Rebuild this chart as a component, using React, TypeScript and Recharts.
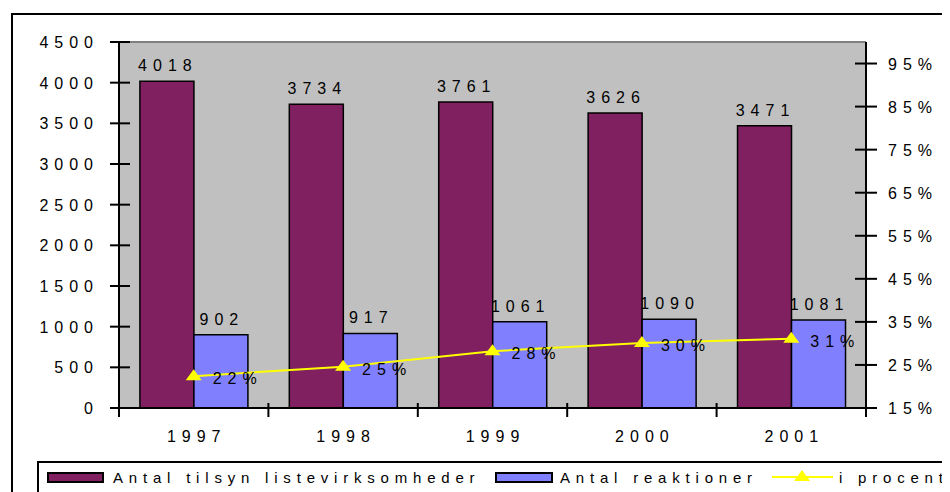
import React from "react";
import {
  ComposedChart,
  Bar,
  Line,
  XAxis,
  YAxis,
  CartesianGrid,
  ReferenceLine,
  LabelList
} from "recharts";

const years = ["1997", "1998", "1999", "2000", "2001"];
const tilsyn = [4018, 3734, 3761, 3626, 3471];
const reaktioner = [902, 917, 1061, 1090, 1081];
const procent = [0.224, 0.246, 0.282, 0.301, 0.311];

const leftTicks = [0, 500, 1000, 1500, 2000, 2500, 3000, 3500, 4000, 4500];
const rightTicks = [0.15, 0.25, 0.35, 0.45, 0.55, 0.65, 0.75, 0.85, 0.95];

const data = years.map((y, i) => ({
  year: y,
  tilsyn: tilsyn[i],
  reaktioner: reaktioner[i],
  procent: procent[i]
}));

const FONT = "'Liberation Sans', Arial, sans-serif";
const PURPLE = "#802060";
const BLUE = "#8080FF";
const YELLOW = "#FFFF00";
const SP = 6;

const txt = {
  fontFamily: FONT,
  fontSize: 16,
  letterSpacing: SP,
  fill: "#000"
};

const pct = (v: number) => Math.round(v * 100) + "%";

const LeftTick = (props: any) => {
  const { x, y, payload } = props;
  return (
    <g>
      <line x1={x - 9} x2={x + 11} y1={y} y2={y} stroke="#000" strokeWidth={2} />
      <text x={x - 20} y={y + 6} textAnchor="end" style={txt}>
        {payload.value}
      </text>
    </g>
  );
};

const RightTick = (props: any) => {
  const { x, y, payload } = props;
  return (
    <g>
      <line x1={x - 11} x2={x + 11} y1={y} y2={y} stroke="#000" strokeWidth={2} />
      <text x={x + 22} y={y + 6} textAnchor="start" style={txt}>
        {pct(payload.value)}
      </text>
    </g>
  );
};

const BottomTick = (props: any) => {
  const { x, y, payload, index } = props;
  const half = payload.offset || 74.7;
  return (
    <g>
      <line x1={x - half} x2={x - half} y1={y - 7} y2={y + 7} stroke="#000" strokeWidth={2} />
      {index === years.length - 1 && (
        <line x1={x + half} x2={x + half} y1={y - 7} y2={y + 7} stroke="#000" strokeWidth={2} />
      )}
      <text x={x + SP / 2} y={y + 32} textAnchor="middle" style={txt}>
        {payload.value}
      </text>
    </g>
  );
};

const BarLabel = (props: any) => {
  const { x, y, width, value } = props;
  return (
    <text x={x + width / 2 + 1} y={y - 10} textAnchor="middle" style={txt}>
      {value}
    </text>
  );
};

const PctLabel = (props: any) => {
  const { x, y, value } = props;
  return (
    <text x={x + 19} y={y + 8} textAnchor="start" style={txt}>
      {pct(value)}
    </text>
  );
};

const Triangle = (props: any) => {
  const { cx, cy } = props;
  if (cx == null || cy == null) return null;
  return (
    <polygon
      points={`${cx},${cy - 7} ${cx - 8},${cy + 4} ${cx + 8},${cy + 4}`}
      fill={YELLOW}
    />
  );
};

const legendText: React.CSSProperties = {
  position: "absolute",
  top: 6,
  fontFamily: FONT,
  fontSize: 15,
  lineHeight: "17px",
  letterSpacing: 5.8,
  whiteSpace: "nowrap",
  color: "#000"
};

export default function App() {
  return (
    <div
      style={{
        position: "relative",
        width: 942,
        height: 484,
        overflow: "hidden",
        background: "#fff"
      }}
    >
      <div
        style={{
          position: "absolute",
          left: 3,
          top: 5,
          width: 1000,
          height: 600,
          border: "2px solid #000"
        }}
      />

      <div style={{ position: "absolute", left: 0, top: 0 }}>
        <ComposedChart
          width={942}
          height={450}
          data={data}
          margin={{ top: 34, right: 14, left: 51, bottom: 20 }}
          barCategoryGap="14%"
          barGap={0}
        >
          <CartesianGrid fill="#C0C0C0" horizontal={false} vertical={false} yAxisId="left" />
          <XAxis
            dataKey="year"
            height={30}
            tick={<BottomTick />}
            tickLine={false}
            tickSize={0}
            axisLine={{ stroke: "#000", strokeWidth: 2 }}
            interval={0}
          />
          <YAxis
            yAxisId="left"
            width={60}
            domain={[0, 4500]}
            ticks={leftTicks}
            tick={<LeftTick />}
            tickLine={false}
            tickSize={0}
            tickMargin={0}
            axisLine={{ stroke: "#000", strokeWidth: 2 }}
            interval={0}
          />
          <YAxis
            yAxisId="right"
            orientation="right"
            width={70}
            domain={[0.15, 1.0]}
            ticks={rightTicks}
            allowDataOverflow
            tick={<RightTick />}
            tickLine={false}
            tickSize={0}
            tickMargin={0}
            axisLine={{ stroke: "#000", strokeWidth: 2 }}
            interval={0}
          />
          <ReferenceLine yAxisId="left" y={4500} stroke="#808080" strokeWidth={2} />
          <Bar
            yAxisId="left"
            dataKey="tilsyn"
            fill={PURPLE}
            stroke="#000"
            strokeWidth={1.5}
            isAnimationActive={false}
          >
            <LabelList dataKey="tilsyn" content={<BarLabel />} />
          </Bar>
          <Bar
            yAxisId="left"
            dataKey="reaktioner"
            fill={BLUE}
            stroke="#000"
            strokeWidth={1.5}
            isAnimationActive={false}
          >
            <LabelList dataKey="reaktioner" content={<BarLabel />} />
          </Bar>
          <Line
            yAxisId="right"
            type="linear"
            dataKey="procent"
            stroke={YELLOW}
            strokeWidth={2}
            dot={<Triangle />}
            activeDot={false}
            isAnimationActive={false}
          >
            <LabelList dataKey="procent" content={<PctLabel />} />
          </Line>
        </ComposedChart>
      </div>

      <div
        style={{
          position: "absolute",
          left: 29,
          top: 453,
          width: 1000,
          height: 100,
          border: "2px solid #000"
        }}
      >
        <div
          style={{
            position: "absolute",
            left: 8,
            top: 9,
            width: 53,
            height: 7,
            background: PURPLE,
            border: "2px solid #000"
          }}
        />
        <div style={{ ...legendText, left: 74 }}>Antal tilsyn listevirksomheder</div>
        <div
          style={{
            position: "absolute",
            left: 456,
            top: 9,
            width: 54,
            height: 7,
            background: BLUE,
            border: "2px solid #000"
          }}
        />
        <div style={{ ...legendText, left: 521 }}>Antal reaktioner</div>
        <svg
          style={{ position: "absolute", left: 733, top: 4, overflow: "visible" }}
          width={61}
          height={20}
        >
          <line x1={0} x2={61} y1={10} y2={10} stroke={YELLOW} strokeWidth={2} />
          <polygon points="30,3 22,14 38,14" fill={YELLOW} />
        </svg>
        <div style={{ ...legendText, left: 800 }}>i procent</div>
      </div>
    </div>
  );
}
